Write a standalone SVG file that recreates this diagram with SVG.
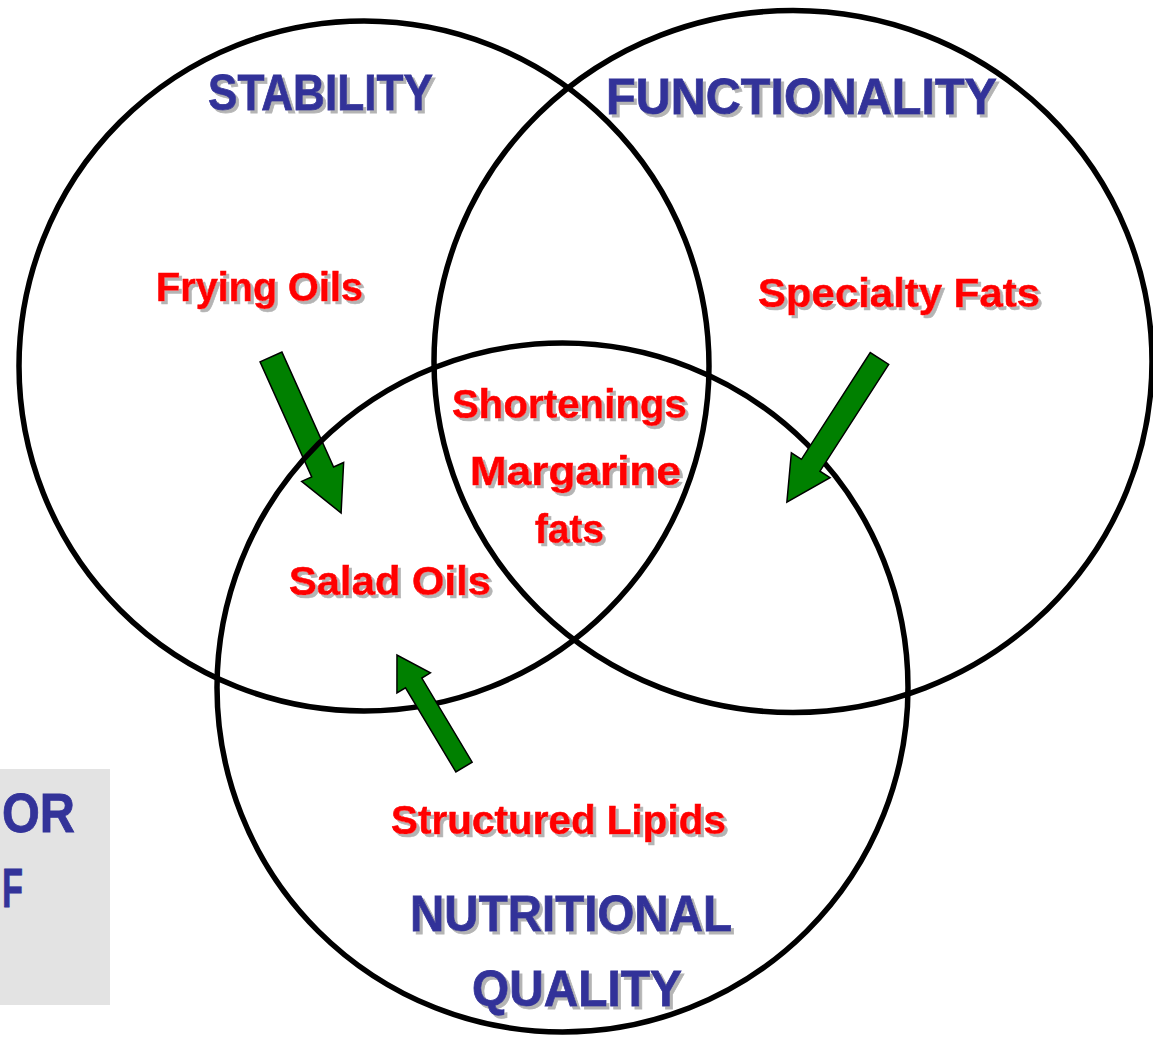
<svg xmlns="http://www.w3.org/2000/svg" xmlns:xlink="http://www.w3.org/1999/xlink" width="1153" height="1037" viewBox="0 0 1153 1037">
<style>
.ring{fill:none;stroke:#000;stroke-width:5.5}
.arrow{fill:#008000;stroke:#000;stroke-width:1.5;stroke-linejoin:miter}
.title{font-family:"Liberation Sans",Arial,sans-serif;font-weight:bold;font-size:50px;fill:#333399;stroke:#333399;stroke-width:0.8;filter:url(#sh)}
.item{font-family:"Liberation Sans",Arial,sans-serif;font-weight:bold;font-size:40px;fill:#ff0000;stroke:#ff0000;stroke-width:0.6;filter:url(#sh)}
.side{font-family:"Liberation Sans",Arial,sans-serif;font-weight:bold;font-size:55px;fill:#333399;stroke:#333399;stroke-width:0.8}
</style>
<defs>
<filter id="sh" x="-5%" y="-20%" width="110%" height="140%">
<feFlood flood-color="#b4b4b4" result="c"/>
<feComposite in="c" in2="SourceAlpha" operator="in" result="s"/>
<feOffset in="s" dx="2.5" dy="2.5" result="o"/>
<feMerge><feMergeNode in="o"/><feMergeNode in="SourceGraphic"/></feMerge>
</filter>
</defs>
<rect width="1153" height="1037" fill="#fff"/>
<g id="sidebox">
<rect x="0" y="769" width="110" height="236" fill="#e3e3e3"/>
<text class="side" x="2" y="832" textLength="73" lengthAdjust="spacingAndGlyphs">OR</text>
<text class="side" x="2" y="907" textLength="21" lengthAdjust="spacingAndGlyphs">F</text>
</g>
<g id="connectors">
<polygon id="arrow-frying" class="arrow" transform="translate(271,357) rotate(65.8)" points="0,-12 126,-12 126,-23 171,0 126,23 126,12 0,12"/>
</g>
<g id="stability"><ellipse class="ring" cx="364" cy="366" rx="345" ry="345"/></g>
<g id="functionality"><ellipse class="ring" cx="793" cy="361.5" rx="359" ry="351"/></g>
<g id="nutritional"><ellipse class="ring" cx="562.5" cy="687.5" rx="345.5" ry="344.5"/></g>
<g id="connectors2">
<polygon id="arrow-specialty" class="arrow" transform="translate(879.5,358.5) rotate(122.8)" points="0,-11 127,-11 127,-23 171,0 127,23 127,11 0,11"/>
<polygon id="arrow-structured" class="arrow" transform="translate(464,767) rotate(-120.9)" points="0,-9.5 98,-9.5 98,-19.5 130.5,0 98,19.5 98,9.5 0,9.5"/>
</g>
<g id="labels">
<text class="title" x="208" y="110" textLength="225" lengthAdjust="spacingAndGlyphs">STABILITY</text>
<text class="title" x="606" y="114" textLength="391" lengthAdjust="spacingAndGlyphs">FUNCTIONALITY</text>
<text class="title" x="410" y="931" textLength="322" lengthAdjust="spacingAndGlyphs">NUTRITIONAL</text>
<text class="title" x="472" y="1006" textLength="210" lengthAdjust="spacingAndGlyphs">QUALITY</text>
<text class="item" x="156" y="301" textLength="207" lengthAdjust="spacingAndGlyphs">Frying Oils</text>
<text class="item" x="758" y="307" textLength="282" lengthAdjust="spacingAndGlyphs">Specialty Fats</text>
<text class="item" x="452" y="418" textLength="235" lengthAdjust="spacingAndGlyphs">Shortenings</text>
<text class="item" x="470" y="485" textLength="211" lengthAdjust="spacingAndGlyphs">Margarine</text>
<text class="item" x="535" y="543" textLength="69" lengthAdjust="spacingAndGlyphs">fats</text>
<text class="item" x="289" y="595" textLength="202" lengthAdjust="spacingAndGlyphs">Salad Oils</text>
<text class="item" x="391" y="834" textLength="335" lengthAdjust="spacingAndGlyphs">Structured Lipids</text>
</g>
</svg>
